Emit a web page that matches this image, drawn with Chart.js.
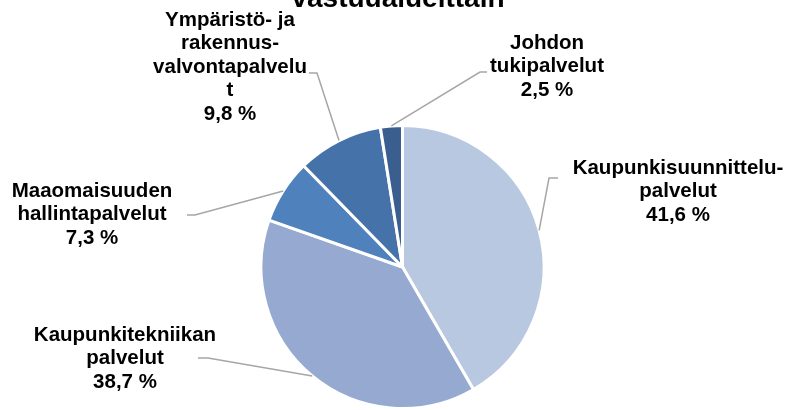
<!DOCTYPE html>
<html>
<head>
<meta charset="utf-8">
<script src="https://cdn.jsdelivr.net/npm/chart.js@4"></script>
<style>
  html, body { margin: 0; padding: 0; background: #fff; }
  #wrap { width: 794px; height: 410px; }
</style>
</head>
<body>
<div id="wrap"><canvas id="pie" width="794" height="410"></canvas></div>
<script>
// vastuualueet, rivitettyinä kuten selitteissä
const categories = [
  ['Kaupunkisuunnittelu-', 'palvelut'],
  ['Kaupunkitekniikan', 'palvelut'],
  ['Maaomaisuuden', 'hallintapalvelut'],
  ['Ympäristö- ja', 'rakennus-', 'valvontapalvelu', 't'],
  ['Johdon', 'tukipalvelut']
];
const shares = [41.6, 38.7, 7.3, 9.8, 2.5];
const colors = ['#B9C8E1', '#95A9D1', '#4F81BD', '#4572A9', '#3A5F8F'];

// label centre (first line) and leader elbow for each slice
const labelPos = [
  { x: 678, y: 168, elbow: [549, 178], end: [558, 178] },
  { x: 125, y: 335, elbow: [208, 358], end: [198, 358] },
  { x: 92,  y: 191, elbow: [195, 215], end: [187, 215] },
  { x: 230, y: 20,  elbow: [317, 73],  end: [309, 73] },
  { x: 547, y: 43,  elbow: [480, 72],  end: [487, 72] }
];

const pct = v => v.toFixed(1).replace('.', ',') + ' %';

const pieLabels = {
  id: 'pieLabels',
  afterDraw(chart) {
    const ctx = chart.ctx;
    const arcs = chart.getDatasetMeta(0).data;
    ctx.save();

    // title, mostly above the visible area
    ctx.fillStyle = '#000';
    ctx.font = 'bold 28px "Liberation Sans", Arial, sans-serif';
    ctx.textAlign = 'center';
    ctx.textBaseline = 'alphabetic';
    ctx.fillText('vastuualueittain', 398, 7);

    arcs.forEach((arc, i) => {
      const p = labelPos[i];
      const mid = (arc.startAngle + arc.endAngle) / 2;
      const r = arc.outerRadius;
      const ax = arc.x + Math.cos(mid) * r;
      const ay = arc.y + Math.sin(mid) * r;

      ctx.strokeStyle = '#A6A6A6';
      ctx.lineWidth = 1.5;
      ctx.beginPath();
      ctx.moveTo(ax, ay);
      ctx.lineTo(p.elbow[0], p.elbow[1]);
      ctx.lineTo(p.end[0], p.end[1]);
      ctx.stroke();

      const lines = categories[i].concat([pct(shares[i])]);
      ctx.fillStyle = '#000';
      ctx.font = 'bold 20.5px "Liberation Sans", Arial, sans-serif';
      ctx.textAlign = 'center';
      ctx.textBaseline = 'middle';
      lines.forEach((t, k) => ctx.fillText(t, p.x, p.y + k * 23.5));
    });
    ctx.restore();
  }
};

new Chart(document.getElementById('pie'), {
  type: 'pie',
  data: {
    labels: categories.map(c => c.join(' ')),
    datasets: [{
      data: shares,
      backgroundColor: colors,
      borderColor: '#ffffff',
      borderWidth: 3
    }]
  },
  options: {
    responsive: false,
    animation: false,
    layout: { padding: { top: 124, bottom: 0, left: 259, right: 248 } },
    plugins: {
      legend: { display: false },
      tooltip: { enabled: false }
    }
  },
  plugins: [pieLabels]
});
</script>
</body>
</html>
